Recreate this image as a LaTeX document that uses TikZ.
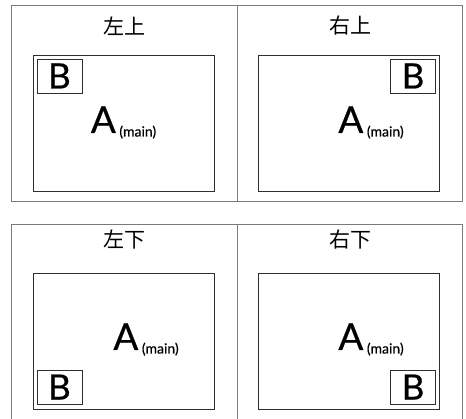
\documentclass[tikz,border=0pt]{standalone}
\usepackage{fontspec}
\setmainfont{Lato}
\newfontfamily\cjk{Noto Sans CJK SC}
\usepackage{tikz}
\usetikzlibrary{positioning,calc}
\definecolor{PanelGrey}{HTML}{7A7A7A}
\definecolor{ScreenDark}{HTML}{2E2E2E}
\tikzset{
  panelline/.style={draw=PanelGrey,line width=0.9pt},
  screenbox/.style={draw=ScreenDark,line width=0.8pt,minimum width=181pt,minimum height=136pt,inner sep=0pt},
  pipbox/.style={draw=ScreenDark,line width=0.7pt,minimum width=45pt,minimum height=34pt,inner sep=0pt,font=\addfontfeatures{FakeBold=0.6}\fontsize{35}{35}\selectfont},
  titlelabel/.style={font=\cjk\fontsize{21}{21}\selectfont,text=black,inner sep=0pt},
  mainlabel/.style={anchor=base,inner sep=0pt,text=black,font=\addfontfeatures{FakeBold=0.6}\fontsize{37}{37}\selectfont}
}
\newcommand{\mainsub}{\kern3.5pt\raisebox{-3.5pt}{\fontsize{14}{14}\selectfont(main)}}

\begin{document}
\begin{tikzpicture}[x=1pt,y=-1pt]
\useasboundingbox (0,0) rectangle (466,419);
% frames
\draw[panelline] (11,5) rectangle (462,201);
\draw[panelline] (237,5) -- (237,201);
\draw[panelline] (11,419) -- (11,224) -- (462,224) -- (462,419);
\draw[panelline] (237,224) -- (237,419);
% titles
\node[titlelabel] (tl) at (124,26) {左上};
\node[titlelabel] (tr) at (350,26) {右上};
\node[titlelabel] (bl) at (124,240) {左下};
\node[titlelabel] (br) at (350,240) {右下};
% screens
\node[screenbox] (s1) at (123.5,123) {};
\node[screenbox] (s2) at (349,123) {};
\node[screenbox] (s3) at (123.5,341) {};
\node[screenbox] (s4) at (349,341) {};
% main picture
\node[mainlabel] (a1) at (123.5,133) {A\mainsub};
\node[mainlabel] (a2) at (371,133) {A\mainsub};
\node[mainlabel] (a3) at (146,350) {A\mainsub};
\node[mainlabel] (a4) at (371,350) {A\mainsub};
% sub picture
\node[pipbox,anchor=north west] (b1) at ($(s1.north west)+(4,4)$) {B};
\node[pipbox,anchor=north east] (b2) at ($(s2.north east)+(-4,4)$) {B};
\node[pipbox,anchor=south west] (b3) at ($(s3.south west)+(4,-5)$) {B};
\node[pipbox,anchor=south east] (b4) at ($(s4.south east)+(-4,-5)$) {B};
\end{tikzpicture}
\end{document}
